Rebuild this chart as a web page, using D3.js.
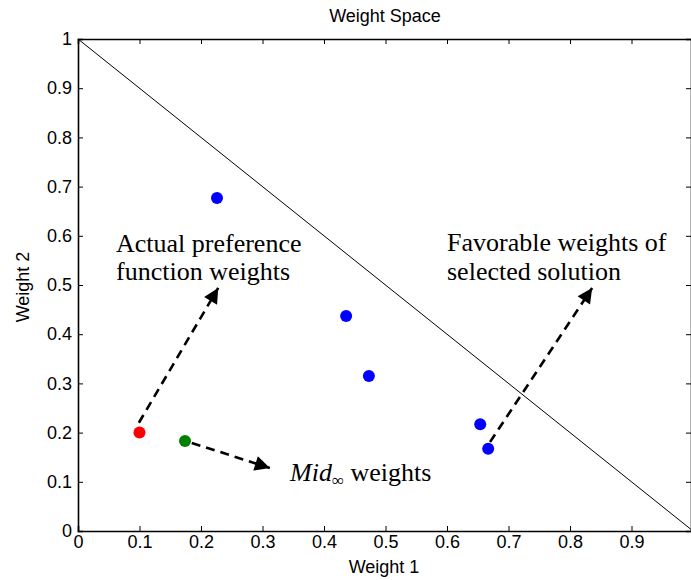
<!DOCTYPE html>
<html><head><meta charset="utf-8">
<script src="https://cdn.jsdelivr.net/npm/d3@7"></script>
<style>body{margin:0;background:#fff}svg{display:block}</style>
</head><body><svg id="c" width="691" height="580"></svg>
<script>
const xTicks = [0,0.1,0.2,0.3,0.4,0.5,0.6,0.7,0.8,0.9];
const yTicks = [0,0.1,0.2,0.3,0.4,0.5,0.6,0.7,0.8,0.9,1];
const blueW1 = [0.226,0.436,0.473,0.654,0.667];
const blueW2 = [0.677,0.437,0.315,0.217,0.167];
const redPt = [0.1,0.2];
const greenPt = [0.174,0.183];
const boundary = [[0,1],[1,0]];
const arrows = [
  {from:[0.099,0.22], to:[0.228,0.494]},
  {from:[0.185,0.179], to:[0.312,0.128]},
  {from:[0.670,0.181], to:[0.836,0.494]}
];

const svg = d3.select("#c");
const L=78, R=693, T=39, B=531;
const x = d3.scaleLinear().domain([0,1]).range([L,R]);
const y = d3.scaleLinear().domain([0,1]).range([B,T]);
const fmt = d => d===0?"0":d===1?"1":String(d);
const sans = "Liberation Sans, Arial, sans-serif";
const serif = "Liberation Serif, Times New Roman, serif";

svg.append("defs").append("marker").attr("id","ah").attr("viewBox","0 0 10 10")
  .attr("refX",10).attr("refY",5).attr("markerWidth",17).attr("markerHeight",15)
  .attr("markerUnits","userSpaceOnUse").attr("orient","auto")
  .append("path").attr("d","M0,0 L10,5 L0,10 z").attr("fill","#000");

// axes
const gx = svg.append("g").attr("transform",`translate(0,${B})`)
  .call(d3.axisBottom(x).tickValues(xTicks).tickFormat(fmt).tickSize(-5).tickPadding(7));
const gy = svg.append("g").attr("transform",`translate(${L},0)`)
  .call(d3.axisLeft(y).tickValues(yTicks).tickFormat(fmt).tickSize(-5).tickPadding(6));
const gt = svg.append("g").attr("transform",`translate(0,${T})`)
  .call(d3.axisTop(x).tickValues(xTicks).tickFormat("").tickSize(-5));
const gr = svg.append("g").attr("transform",`translate(${R-2},0)`)
  .call(d3.axisRight(y).tickValues(yTicks).tickFormat("").tickSize(-5));
[gx,gy,gt,gr].forEach(g=>{
  g.selectAll("path.domain").attr("stroke","#000").attr("stroke-width",1.6);
  g.selectAll(".tick line").attr("stroke","#000").attr("stroke-width",1);
  g.selectAll("text").attr("font-family",sans).attr("font-size",18).attr("fill","#000");
});
gx.selectAll("text").attr("dy","0.55em");

// boundary
svg.append("line").attr("x1",x(boundary[0][0])).attr("y1",y(boundary[0][1]))
  .attr("x2",x(boundary[1][0])).attr("y2",y(boundary[1][1]))
  .attr("stroke","#000").attr("stroke-width",1);

// arrows
svg.selectAll("line.arr").data(arrows).join("line").attr("class","arr")
  .attr("x1",d=>x(d.from[0])).attr("y1",d=>y(d.from[1]))
  .attr("x2",d=>x(d.to[0])).attr("y2",d=>y(d.to[1]))
  .attr("stroke","#000").attr("stroke-width",2.6).attr("stroke-dasharray","9,6")
  .attr("marker-end","url(#ah)");

// points
svg.selectAll("circle.b").data(blueW1).join("circle").attr("class","b")
  .attr("cx",d=>x(d)).attr("cy",(d,i)=>y(blueW2[i])).attr("r",6).attr("fill","#0000ff");
svg.append("circle").attr("cx",x(redPt[0])).attr("cy",y(redPt[1])).attr("r",6).attr("fill","#ff0000");
svg.append("circle").attr("cx",x(greenPt[0])).attr("cy",y(greenPt[1])).attr("r",6).attr("fill","#008000");

// labels
svg.append("text").attr("x",385).attr("y",22).attr("text-anchor","middle")
  .attr("font-family",sans).attr("font-size",18).text("Weight Space");
svg.append("text").attr("x",384).attr("y",573).attr("text-anchor","middle")
  .attr("font-family",sans).attr("font-size",18).text("Weight 1");
svg.append("text").attr("transform","translate(29,287) rotate(-90)").attr("text-anchor","middle")
  .attr("font-family",sans).attr("font-size",18).text("Weight 2");

const ann = svg.append("g").attr("font-family",serif).attr("font-size",26).attr("fill","#000");
ann.append("text").attr("x",116).attr("y",252).text("Actual preference");
ann.append("text").attr("x",116).attr("y",280).text("function weights");
ann.append("text").attr("x",447).attr("y",251).text("Favorable weights of");
ann.append("text").attr("x",447).attr("y",280).text("selected solution");
const mid = ann.append("text").attr("x",290).attr("y",481);
mid.append("tspan").attr("font-style","italic").text("Mid");
mid.append("tspan").attr("font-size",17).attr("dy",5).text("∞");
mid.append("tspan").attr("dy",-5).text(" weights");
</script></body></html>
